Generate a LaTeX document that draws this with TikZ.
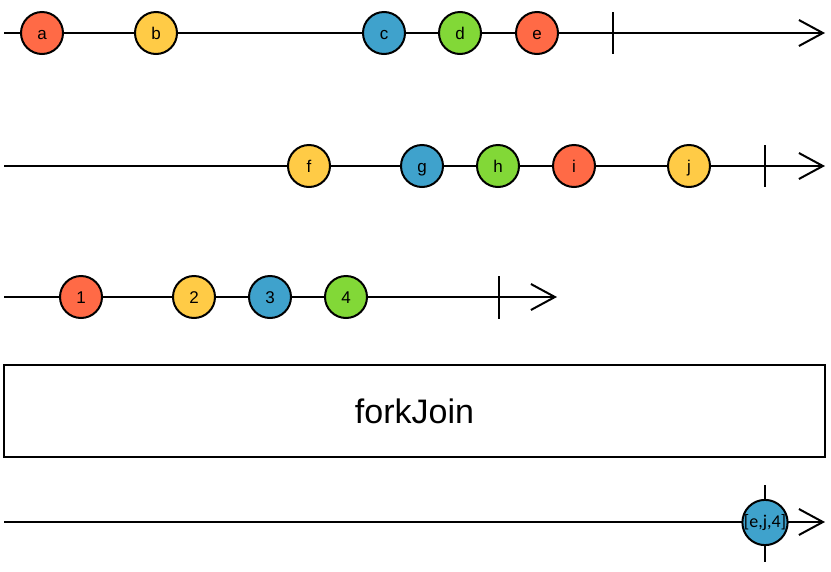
\documentclass[tikz,border=0pt]{standalone}
\usepackage{fontspec}
\setmainfont{Liberation Sans}
\newfontfamily\smallfont{Carlito}
\usetikzlibrary{arrows.meta}
\definecolor{mred}{HTML}{FF6A46}
\definecolor{myel}{HTML}{FFCB46}
\definecolor{mblue}{HTML}{3FA2CC}
\definecolor{mgreen}{HTML}{82D837}
\begin{document}
\begin{tikzpicture}[x=1pt,y=-1pt,
  timeline/.style={line width=2pt,-{Straight Barb[length=24pt,width=26pt,line width=2pt]}},
  marble/.style={circle,draw,line width=2pt,minimum size=42pt,inner sep=0pt,text height=12.5pt,text depth=0pt,font=\fontsize{17}{19}\selectfont},
  endtick/.style={line width=2pt}]
\useasboundingbox (0,0) rectangle (831,571);
% line 1
\coordinate (s1) at (4,33); \coordinate (t1) at (825,33);
\draw[timeline] (s1) -- (t1);
\coordinate (k1a) at (613,12); \coordinate (k1b) at (613,54);
\draw[endtick] (k1a) -- (k1b);
\node[marble,fill=mred] (a) at (42,33) {a};
\node[marble,fill=myel] (b) at (156,33) {b};
\node[marble,fill=mblue] (c) at (384,33) {c};
\node[marble,fill=mgreen] (d) at (460,33) {d};
\node[marble,fill=mred] (e) at (537,33) {e};
% line 2
\coordinate (s2) at (4,166); \coordinate (t2) at (825,166);
\draw[timeline] (s2) -- (t2);
\coordinate (k2a) at (765,145); \coordinate (k2b) at (765,187);
\draw[endtick] (k2a) -- (k2b);
\node[marble,fill=myel] (f) at (309,166) {f};
\node[marble,fill=mblue] (g) at (422,166) {g};
\node[marble,fill=mgreen] (h) at (498,166) {h};
\node[marble,fill=mred] (i) at (574,166) {i};
\node[marble,fill=myel] (j) at (689,166) {j};
% line 3
\coordinate (s3) at (4,297); \coordinate (t3) at (557,297);
\draw[timeline] (s3) -- (t3);
\coordinate (k3a) at (499,276); \coordinate (k3b) at (499,319);
\draw[endtick] (k3a) -- (k3b);
\node[marble,fill=mred] (n1) at (81,297) {1};
\node[marble,fill=myel] (n2) at (194,297) {2};
\node[marble,fill=mblue] (n3) at (270,297) {3};
\node[marble,fill=mgreen] (n4) at (346,297) {4};
% operator box
\node[draw,line width=2pt,minimum width=821pt,minimum height=92pt,inner sep=0pt,font=\fontsize{34}{40}\selectfont] (op) at (414.5,411) {forkJoin};
% result line
\coordinate (s5) at (4,522); \coordinate (t5) at (825,522);
\draw[timeline] (s5) -- (t5);
\coordinate (k5a) at (765,485); \coordinate (k5b) at (765,562);
\draw[endtick] (k5a) -- (k5b);
\node[marble,fill=mblue,text height=,text depth=,font=\smallfont\fontsize{18}{20}\selectfont] (r) at (765,522.5) {[e,j,4]};
\end{tikzpicture}
\end{document}
